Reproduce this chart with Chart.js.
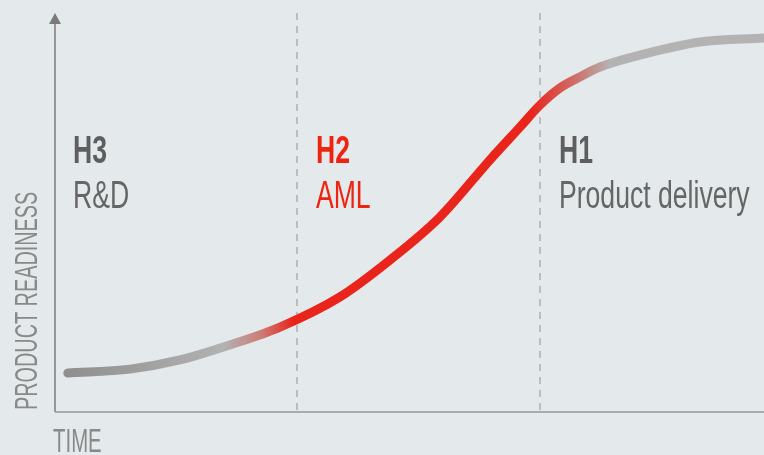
<!DOCTYPE html>
<html>
<head>
<meta charset="utf-8">
<script src="https://cdn.jsdelivr.net/npm/chart.js@4.4.1/dist/chart.umd.min.js"></script>
<style>
  html, body { margin: 0; padding: 0; background: #e4e9eb; }
  #wrap { width: 764px; height: 455px; position: relative; }
</style>
</head>
<body>
<div id="wrap"><canvas id="curve"></canvas></div>
<script>
// time in "horizon" units (one horizon per segment), readiness 0..100
const timeValues = [0.053, 0.309, 0.514, 0.720, 0.926, 1.173, 1.379, 1.584, 1.790, 1.914, 1.996, 2.078, 2.160, 2.243, 2.407, 2.654, 2.918];
const readinessValues = [9.8, 10.8, 13.1, 16.9, 21.4, 29.0, 38.3, 49.1, 63.5, 71.8, 77.3, 81.6, 84.4, 86.9, 89.9, 93.2, 94.2];

const horizonStarts = [0, 1, 2];
const horizonNames = ['H3', 'H2', 'H1'];
const horizonLabels = ['R&D', 'AML', 'Product delivery'];
const dividers = [1, 2];

const xTitle = 'TIME';
const yTitle = 'PRODUCT READINESS';

const RED = '#e9241b';
const TEXT_RED = '#ee2410';
const GREY_TEXT = '#666666';
const AXIS = '#979797';
const FONT = "'Liberation Sans', Arial, sans-serif";

function squeezedText(ctx, text, x, y, font, color, squeeze, rotate)
{
    ctx.save();
    ctx.translate(x, y);
    if (rotate) ctx.rotate(-Math.PI / 2);
    ctx.scale(squeeze, 1);
    ctx.font = font;
    ctx.fillStyle = color;
    ctx.textAlign = 'left';
    ctx.textBaseline = 'alphabetic';
    ctx.fillText(text, 0, 0);
    ctx.restore();
}

function curveGradient(chart)
{
    const area = chart.chartArea;
    if (!area) return RED;
    const g = chart.ctx.createLinearGradient(area.left, 0, area.right, 0);
    g.addColorStop(0.00, '#8c8c8c');
    g.addColorStop(0.237, '#b2b2b2');
    g.addColorStop(0.289, '#cc7e7a');
    g.addColorStop(0.336, RED);
    g.addColorStop(0.670, RED);
    g.addColorStop(0.733, '#cf6e69');
    g.addColorStop(0.783, '#b3b3b3');
    g.addColorStop(1.00, '#b3b3b3');
    return g;
}

const decorations = {
    id: 'decorations',
    beforeDatasetsDraw(chart)
    {
        const ctx = chart.ctx;
        const area = chart.chartArea;
        const xs = chart.scales.x;

        // dashed horizon dividers
        ctx.save();
        ctx.strokeStyle = '#bdbdbd';
        ctx.lineWidth = 2;
        ctx.setLineDash([7, 6]);
        for (let i = 0; i < dividers.length; i++)
        {
            const px = Math.floor(xs.getPixelForValue(dividers[i]));
            ctx.beginPath();
            ctx.moveTo(px, area.top - 2);
            ctx.lineTo(px, area.bottom);
            ctx.stroke();
        }
        ctx.restore();

        // axes with arrow
        ctx.save();
        ctx.strokeStyle = AXIS;
        ctx.lineWidth = 2;
        ctx.beginPath();
        ctx.moveTo(area.left, area.top + 8);
        ctx.lineTo(area.left, area.bottom);
        ctx.stroke();
        ctx.lineWidth = 1.5;
        ctx.beginPath();
        ctx.moveTo(area.left, area.bottom);
        ctx.lineTo(area.right, area.bottom);
        ctx.stroke();
        ctx.fillStyle = '#7a7a7a';
        ctx.beginPath();
        ctx.moveTo(area.left, area.top - 2);
        ctx.lineTo(area.left - 6, area.top + 9);
        ctx.lineTo(area.left + 6, area.top + 9);
        ctx.closePath();
        ctx.fill();
        ctx.restore();

        // horizon labels
        for (let i = 0; i < horizonStarts.length; i++)
        {
            const px = xs.getPixelForValue(horizonStarts[i]) + 18;
            squeezedText(ctx, horizonNames[i], px, 163, 'bold 38px ' + FONT, i === 1 ? TEXT_RED : '#5e5e5e', 0.7);
            squeezedText(ctx, horizonLabels[i], px, 208, '38px ' + FONT, i === 1 ? TEXT_RED : GREY_TEXT, 0.7);
        }

        // axis titles
        squeezedText(ctx, xTitle, area.left - 2, 452, '34px ' + FONT, '#898989', 0.6);
        squeezedText(ctx, yTitle, 37, area.bottom - 2, '32px ' + FONT, '#898989', 0.62, true);
    }
};

new Chart(document.getElementById('curve'), {
    type: 'line',
    data: {
        datasets: [{
            data: timeValues.map((t, i) => ({ x: t, y: readinessValues[i] })),
            borderColor: ctx => curveGradient(ctx.chart),
            borderWidth: 9,
            borderCapStyle: 'round',
            borderJoinStyle: 'round',
            cubicInterpolationMode: 'monotone',
            pointRadius: 0,
            fill: false,
            clip: false
        }]
    },
    options: {
        responsive: true,
        maintainAspectRatio: false,
        animation: false,
        layout: { padding: { left: 55, right: 0, top: 15, bottom: 43 } },
        plugins: {
            legend: { display: false },
            tooltip: { enabled: false }
        },
        scales: {
            x: { type: 'linear', min: 0, max: 2.918, display: false },
            y: { min: 0, max: 100, display: false }
        }
    },
    plugins: [decorations]
});
</script>
</body>
</html>
